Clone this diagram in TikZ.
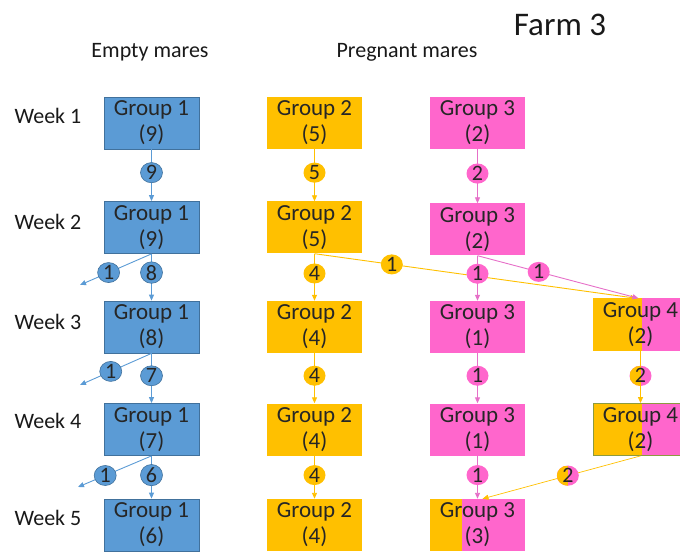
\documentclass[tikz,border=0pt]{standalone}
\usepackage{fontspec}
\setmainfont{Carlito}
\usetikzlibrary{arrows.meta,shapes.geometric}
\definecolor{eblue}{HTML}{5B9BD5}
\definecolor{eblueline}{HTML}{41719C}
\definecolor{porange}{HTML}{FFC000}
\definecolor{ppink}{HTML}{FF66CC}
\definecolor{pinkline}{HTML}{E66FC8}
\definecolor{oliveline}{HTML}{8C9A40}
\begin{document}
\begin{tikzpicture}[x=1pt,y=-1pt,
  grp/.style={rectangle,minimum width=95pt,minimum height=52pt,inner sep=0pt,
    align=center,font=\fontsize{23}{26}\selectfont,text=black!85},
  emptybox/.style={grp,fill=eblue,draw=eblueline,line width=0.8pt},
  pregbox/.style={grp,fill=porange},
  pinkbox/.style={grp,fill=ppink},
  halffill/.style={path picture={\fill[porange] (path picture bounding box.south west)
    rectangle ([xshift=#1]path picture bounding box.north west);}},
  num/.style={ellipse,minimum width=22pt,minimum height=18pt,inner sep=0pt,
    font=\fontsize{22}{22}\selectfont,text=black!85},
  bnum/.style={num,fill=eblue,draw=eblueline,line width=0.6pt},
  onum/.style={num,fill=porange},
  pnum/.style={num,fill=ppink},
  tip/.style={-{Triangle[length=6pt,width=5pt]}},
  bflow/.style={tip,draw=eblue,line width=0.9pt},
  oflow/.style={tip,draw=porange,line width=0.9pt},
  pflow/.style={tip,draw=pinkline,line width=0.9pt},
  label/.style={font=\fontsize{22}{25}\selectfont,text=black!90}]
\useasboundingbox (0,0) rectangle (680,553);
\clip (0,0) rectangle (680,553);
% headings
\node[font=\fontsize{33}{33}\selectfont,text=black!90] (farm) at (560,25) {Farm 3};
\node[label] (hempty) at (150,52) {Empty mares};
\node[label] (hpreg) at (407,52) {Pregnant mares};
% weeks
\node[label,anchor=west] (wk1) at (11,116) {Week 1};
\node[label,anchor=west] (wk2) at (11,222) {Week 2};
\node[label,anchor=west] (wk3) at (11,322) {Week 3};
\node[label,anchor=west] (wk4) at (11,421) {Week 4};
\node[label,anchor=west] (wk5) at (11,518) {Week 5};
% empty mares
\node[emptybox] (g1w1) at (151.5,123) {Group 1\\(9)};
\node[emptybox] (g1w2) at (151.5,227.5) {Group 1\\(9)};
\node[emptybox] (g1w3) at (151.5,327) {Group 1\\(8)};
\node[emptybox] (g1w4) at (151.5,429.5) {Group 1\\(7)};
\node[emptybox] (g1w5) at (151.5,525) {Group 1\\(6)};
% pregnant mares
\node[pregbox] (g2w1) at (314.5,123) {Group 2\\(5)};
\node[pregbox] (g2w2) at (314.5,227.5) {Group 2\\(5)};
\node[pregbox] (g2w3) at (314.5,327) {Group 2\\(4)};
\node[pregbox] (g2w4) at (314.5,429.5) {Group 2\\(4)};
\node[pregbox] (g2w5) at (314.5,525) {Group 2\\(4)};
\node[pinkbox] (g3w1) at (477.5,123) {Group 3\\(2)};
\node[pinkbox] (g3w2) at (477.5,229.5) {Group 3\\(2)};
\node[pinkbox] (g3w3) at (477.5,327) {Group 3\\(1)};
\node[pinkbox] (g3w4) at (477.5,429.5) {Group 3\\(1)};
\node[pinkbox,halffill=32pt] (g3w5) at (477.5,525) {Group 3\\(3)};
\node[pinkbox,halffill=49pt] (g4w3) at (640.5,324.5) {Group 4\\(2)};
\node[pinkbox,halffill=49pt,draw=oliveline,line width=0.8pt] (g4w4) at (640.5,429.5) {Group 4\\(2)};
% leaving
\coordinate (out2) at (80,285);
\coordinate (out3) at (80,385);
\coordinate (out4) at (78,487);
\draw[bflow] (g1w1) -- node[bnum,pos=0.45] {9} (g1w2);
\draw[bflow] (g1w2) -- node[bnum,pos=0.4] {8} (g1w3);
\draw[bflow] (g1w3) -- node[bnum,pos=0.45] {7} (g1w4);
\draw[bflow] (g1w4) -- node[bnum,pos=0.45] {6} (g1w5);
\draw[bflow] (g1w2.south) -- node[bnum,pos=0.6] {1} (out2);
\draw[bflow] (g1w3.south) -- node[bnum,pos=0.57] {1} (out3);
\draw[bflow] (g1w4.south) -- node[bnum,pos=0.63] {1} (out4);
% orange flows
\draw[oflow] (g2w1) -- node[onum,pos=0.45] {5} (g2w2);
\draw[oflow] (g2w2) -- node[onum,pos=0.42] {4} (g2w3);
\draw[oflow] (g2w3) -- node[onum,pos=0.45] {4} (g2w4);
\draw[oflow] (g2w4) -- node[onum,pos=0.45] {4} (g2w5);
\draw[oflow] (g2w2.south) -- node[onum,pos=0.24] {1} ([xshift=-4pt]g4w3.north);
% pink flows
\draw[pflow] (g3w1) -- node[pnum,pos=0.45] {2} (g3w2);
\draw[pflow] (g3w2) -- node[pnum,pos=0.4] {1} (g3w3);
\draw[pflow] (g3w3) -- node[pnum,pos=0.45] {1} (g3w4);
\draw[pflow] (g3w4) -- node[pnum,pos=0.45] {1} (g3w5);
\draw[pflow] (g3w2.south) -- node[pnum,pos=0.38] {1} ([xshift=-2pt]g4w3.north);
% group 4
\draw[oflow] (g4w3) -- node[pnum,halffill=11pt,pos=0.48] {2} (g4w4);
\draw[oflow,line width=0.7pt] (g4w4.south) -- node[pnum,halffill=11pt,pos=0.46] {2} ([xshift=5pt]g3w5.north);
\end{tikzpicture}
\end{document}
